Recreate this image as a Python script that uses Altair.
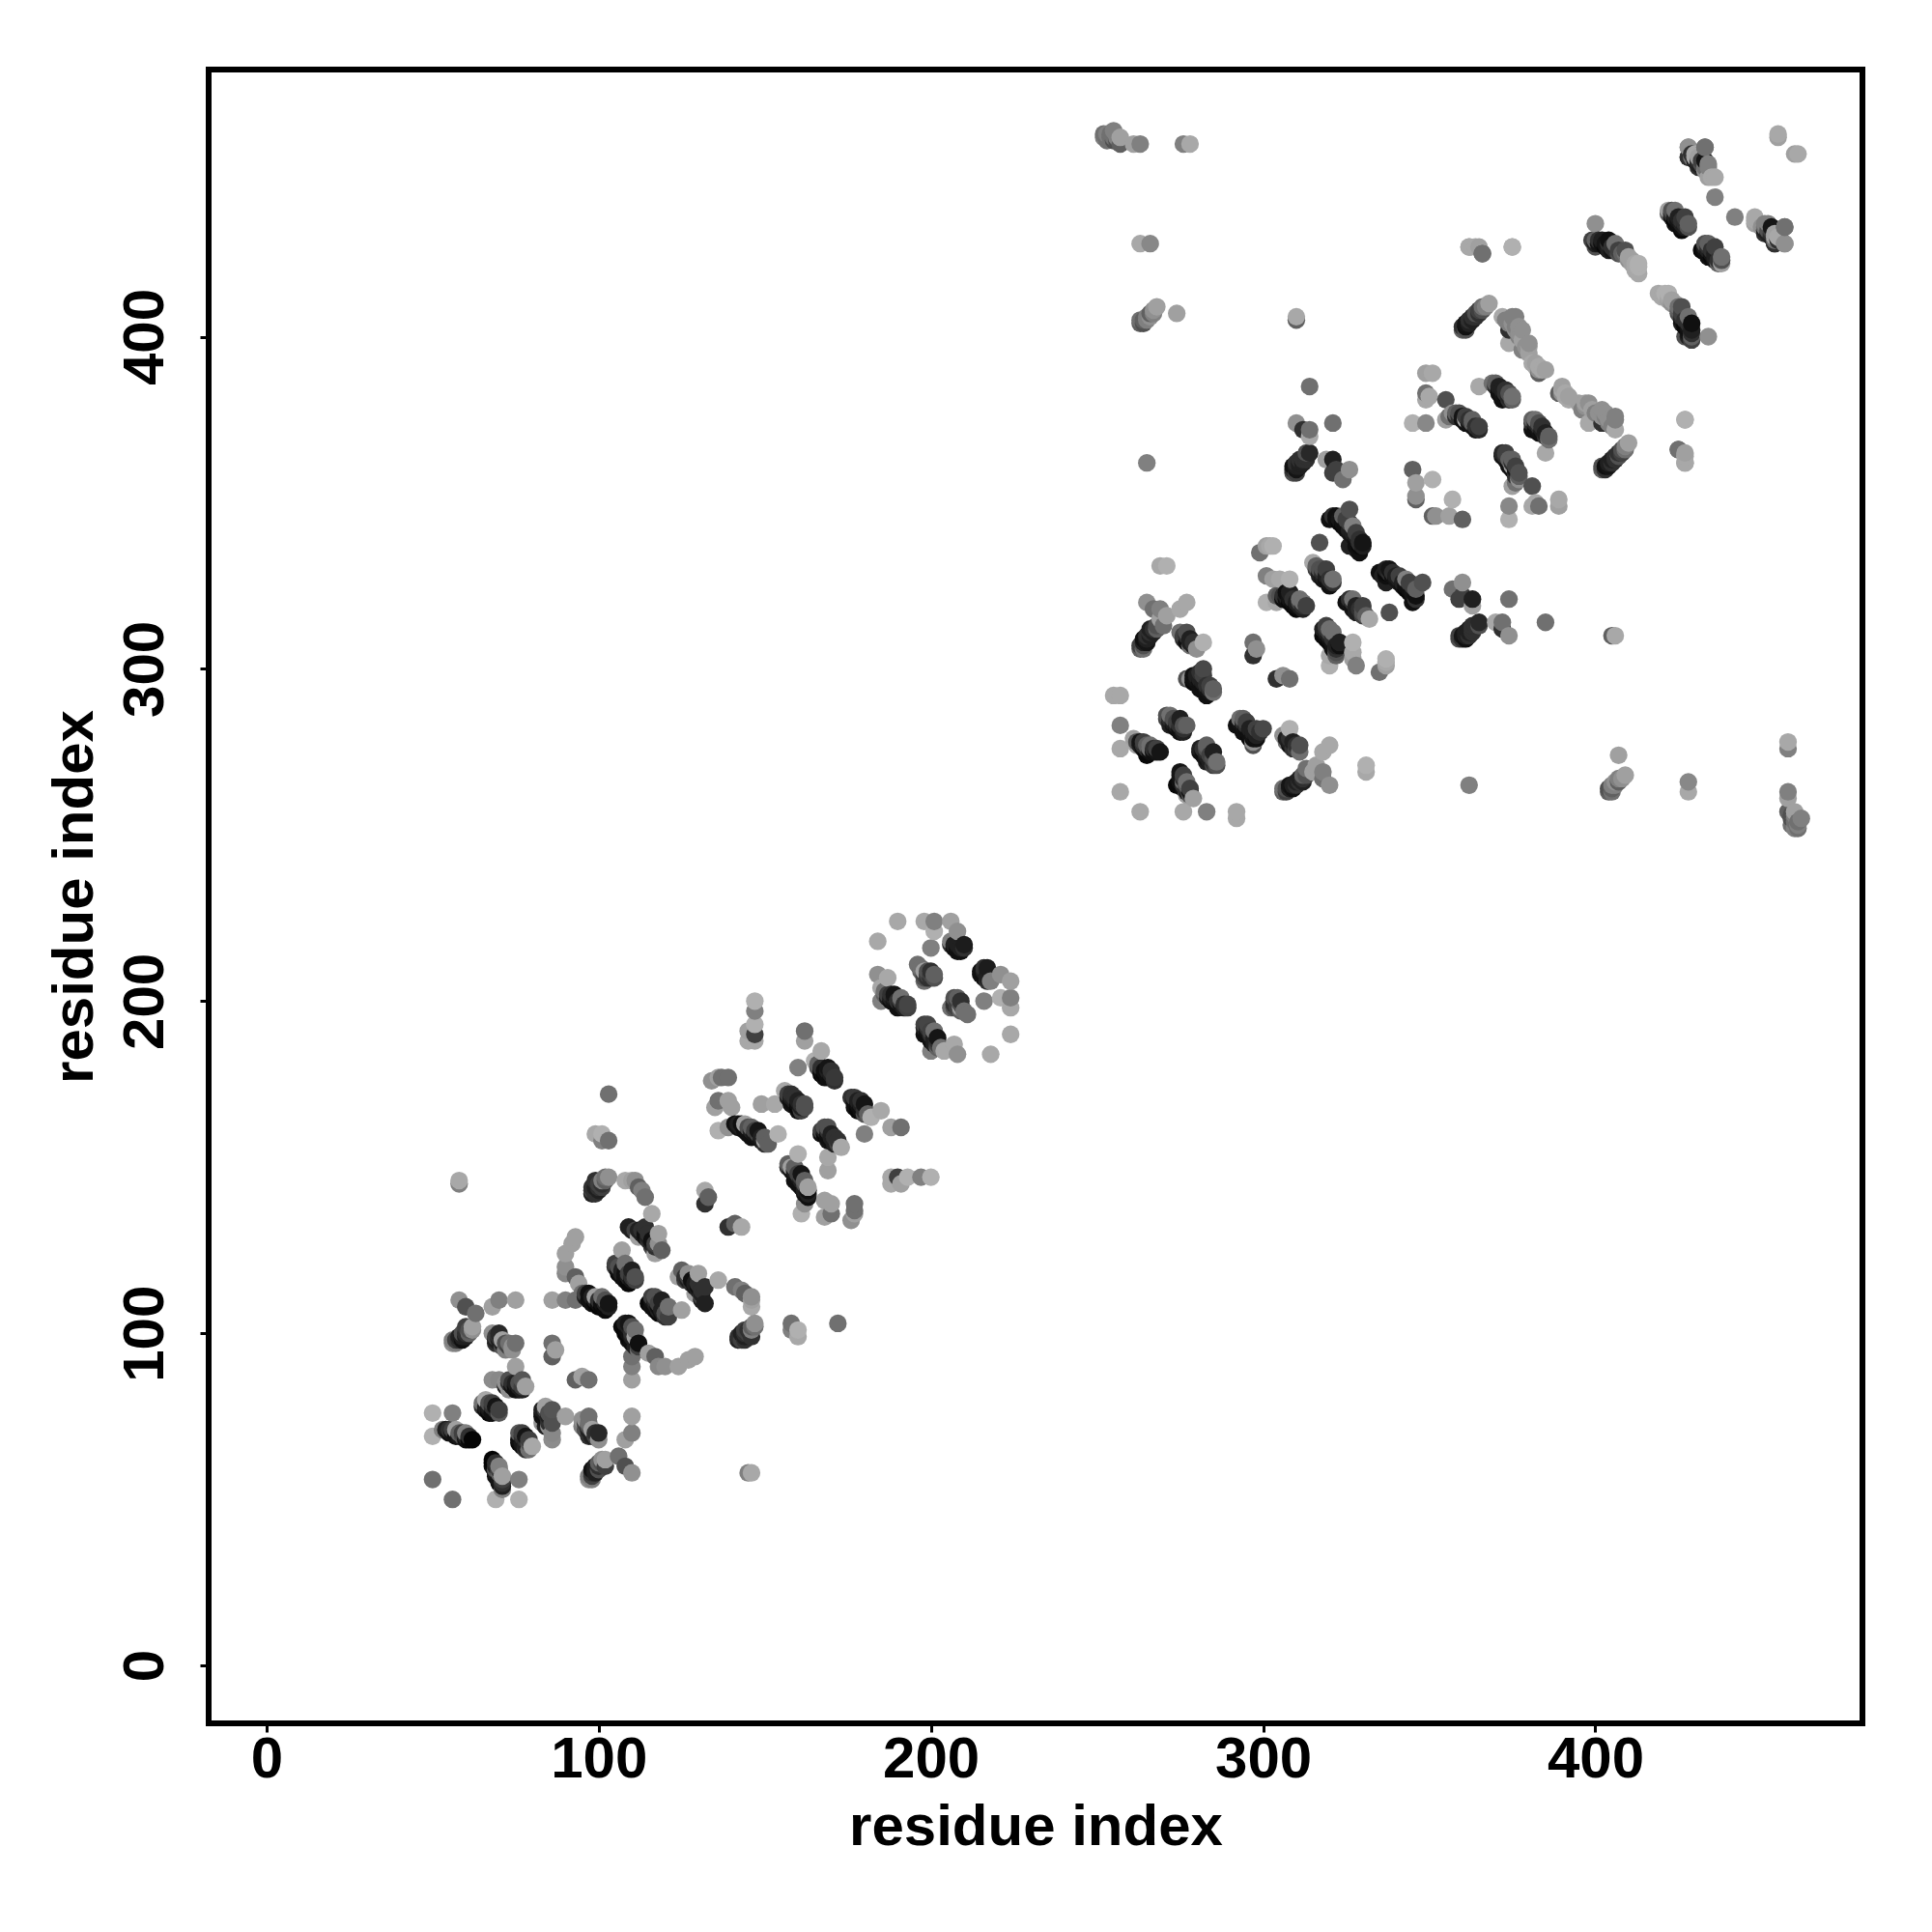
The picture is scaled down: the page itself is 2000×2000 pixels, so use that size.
import altair as alt
import pandas as pd

# contacts: (residue i, residue j, gray level), i < j
block_a = [(50,56,0x70),(56,76,0x80),(50,76,0xb0),(50,69,0xb0),(53,71,0x80),(55,71,0x30),(56,70,0x15),(57,71,0xa0),
           (58,70,0x60),(59,69,0x50),(60,69,0x25),(61,68,0x08),(62,68,0x05)]
block_b = [(66,80,0xa8),(67,79,0x50),(69,78,0x15),(65,78,0x30),(66,77,0x10),(67,76,0x08),(70,76,0x58)]
block_f = [(68,86,0x8c),(70,86,0x88),(75,90,0xa0),(73,86,0x50),(74,84,0x15),(75,85,0x20),(77,86,0x55),
           (76,83,0x10),(78,84,0xa0),(73,83,0x90)]
block_g = [(57,97,0x80),(57,98,0x40),(58,99,0x20),(59,100,0x50),(60,102,0x40),(62,102,0xa0),(63,106,0x70),
           (58,110,0x90),(60,108,0x50),(68,108,0xa0),(70,110,0x80),(75,110,0xa0)]
block_h = [(68,100,0x90),(70,100,0x28),(69,97,0x30),(71,98,0xa0),(73,97,0x70),(72,95,0x80),(75,97,0x70),
           (86,97,0x70),(87,95,0xa0),(86,93,0x60)]
block_i = [(86,110,0xa0),(90,110,0x80),(93,110,0x70),(93,129,0xa0),(92,127,0xa0),(90,124,0xa0),(90,118,0x88),
           (93,117,0x60),(90,120,0x90),(94,115,0xa0),(97,112,0x10),(95,112,0x70),(99,111,0xa0),(98,109,0x10),
           (101,111,0x70),(100,108,0x05),(103,109,0x15),(102,107,0x0a)]
block_j = [(107,125,0xa0),(106,120,0x50),(108,121,0x70),(107,117,0x10),(110,119,0x20),(111,117,0x50),(109,115,0x08)]
block_k = [(109,132,0x20),(116,136,0xa8),(114,132,0x30),(112,129,0xa0),(114,130,0x10),(118,130,0xa0),
           (119,125,0x60),(117,124,0xa0),(116,127,0x20),(112,144,0x60)]
block_l = [(58,146,0xa8),(58,145,0x80),(103,172,0x70),(99,160,0xa8),(101,160,0xb0),(103,158,0x70),(101,158,0x80),
           (98,143,0x40),(99,146,0x30),(101,146,0x80),(103,147,0x90),(98,142,0x20),(100,144,0x30),
           (108,146,0xa8),(111,146,0x90),(113,143,0x80),(114,141,0x70),(110,146,0xa0)]
block_m = [(132,143,0xa8),(133,141,0x60),(132,139,0x30),(136,177,0xa0),(134,176,0x90),(137,177,0x70),(139,177,0x70),
           (136,170,0x70),(139,170,0xa0),(135,168,0xa0),(140,168,0xa0),(136,161,0xb0),(139,162,0x90),(141,163,0x10),
           (143,163,0x10),(144,163,0xa0),(146,162,0x60),(148,161,0x15),(149,159,0x20),(150,158,0xa0),(151,157,0x60),
           (154,160,0xb0),(146,159,0x10)]
block_n = [(149,169,0xa0),(153,169,0xa8),(147,200,0xb0),(147,197,0x80),(145,191,0xa0),(147,193,0xb0),(145,188,0xa8),
           (147,188,0xa8),(147,190,0x40),(162,191,0x70),(162,188,0xa0),(167,185,0xa8),(165,182,0xb0),(166,180,0x50),
           (169,180,0x15),(168,177,0x10),(171,177,0x38),(160,180,0x80),(156,173,0xa8),(158,172,0x30),(160,170,0x20),
           (158,169,0x15),(162,168,0x50),(160,167,0x10)]
block_o = [(184,218,0xa8),(190,224,0xa8),(184,208,0x90),(187,207,0xa8),(185,204,0xa8),(187,202,0x40),(189,202,0x15),
           (191,201,0x70),(193,199,0x45),(185,200,0x80),(190,198,0x10),(200,216,0x80),(201,221,0xb0),(201,224,0x80),
           (198,224,0xa8),(206,224,0xa0),(208,221,0x90),(207,217,0x20),(210,217,0x1c),(208,215,0x10),(196,211,0x70),
           (198,209,0xa0),(200,209,0x30),(201,207,0x50),(198,206,0x70)]
block_p = [(269,331,0xa8),(271,331,0xb0),(265,320,0x90),(267,318,0x70),(269,318,0x80),(277,320,0xa8),(275,318,0xa8),
           (271,316,0xa0),(269,315,0xa0),(264,307,0x50),(264,309,0x10),(265,310,0x30),(266,312,0x20),(268,313,0x50),
           (270,313,0x70),(275,311,0x70),(277,311,0x50),(277,308,0x10),(278,307,0x70),(280,306,0x90),(282,308,0xb0)]
block_q = [(282,300,0x48),(277,297,0x50),(278,297,0x90),(280,296,0x10),(281,294,0x10),(284,295,0x40),(285,293,0x70),
           (283,292,0x10),(255,292,0xa8),(257,292,0xa8),(257,283,0x80),(257,276,0xa8),(257,263,0xa8),(261,279,0xa0),
           (263,278,0x15),(262,277,0xa0),(265,277,0x60),(266,276,0x70),(265,274,0x08),(269,275,0x15),(272,286,0x70),
           (271,286,0x50),(274,284,0x40),(275,285,0x20),(273,283,0x15),(277,283,0x60),(275,281,0x10)]
block_r = [(301,337,0xa0),(299,335,0x70),(303,337,0xb0),(301,328,0x80),(303,327,0xa0),(305,327,0xa8),(308,327,0xb0),
           (301,320,0xb0),(304,320,0xa8),(304,322,0x60),(307,323,0x10),(306,321,0x10),(308,323,0x20),(311,321,0x70),
           (313,319,0x40),(310,318,0x08),(317,338,0x50),(315,332,0xa8),(317,330,0x50),(319,330,0x40),(321,327,0x70),
           (318,327,0x15),(320,325,0x10),(320,345,0x10),(326,348,0x50),(324,346,0x60),(325,343,0x10),(327,343,0x80),
           (328,340,0x20),(330,338,0x15),(329,335,0x10),(326,337,0x20),(297,308,0x70),(298,306,0x90),(297,304,0x30),
           (302,337,0xa8)]
block_s = [(253,461,0x80),(254,460,0x70),(253,459,0x70),(255,462,0x80),(257,460,0xa0),(257,458,0x60),(261,458,0xa0),
           (263,458,0x80),(276,458,0x80),(278,458,0xa8),(263,428,0xa8),(266,428,0x88),(263,404,0x60),(265,406,0x80),
           (266,407,0x60),(268,409,0xa0),(274,407,0xa0),(310,406,0xa8),(310,405,0x60),(314,385,0x70),(310,374,0x90),
           (312,372,0x30),(314,372,0x70),(314,370,0xa8),(321,374,0x70),(265,362,0x80)]
block_t = [(309,359,0x50),(309,361,0x10),(311,363,0x30),(314,365,0x28),(319,363,0xa0),(321,363,0x20),(322,360,0x40),
           (321,359,0x40),(326,360,0x90),(324,357,0x70),(349,389,0xa0),(351,389,0xa8),(349,383,0x70),(350,382,0xa8),
           (349,381,0xa8),(345,374,0xb0),(349,374,0x88),(355,381,0x50),(355,375,0xa0),(357,377,0x90),(358,376,0x30),
           (360,376,0x15),(361,375,0xa0),(363,374,0x60),(365,372,0x28),(365,385,0xa8),(370,386,0x60),(371,384,0x10),
           (373,383,0x30),(375,381,0x60),(372,381,0x10)]
block_u = [(361,402,0x50),(361,404,0x15),(363,406,0x30),(365,408,0x40),(368,410,0xa0),(372,406,0xa8),(375,406,0x80),
           (374,402,0x30),(376,403,0x80),(374,398,0xa8),(380,398,0x90),(378,396,0x80),(381,392,0xa8),(384,390,0xa8),
           (383,389,0x60),(377,401,0x90),(382,392,0xa0),(427,375,0xa8),(425,366,0x70),(427,365,0xa0),(427,362,0xa0),
           (346,352,0x90),(346,356,0xa0),(345,360,0x60),(351,357,0xb0),(346,351,0x60)]
block_v = [(455,461,0xa8),(455,460,0xa0),(428,457,0x90),(428,454,0x30),(430,455,0xa8),(433,457,0x70),(431,454,0xa0),
           (432,451,0x20),(434,452,0x80),(434,448,0xa0),(436,448,0xa8),(436,442,0x80),(400,434,0x90),(400,429,0x60),
           (400,427,0x50),(402,429,0x20),(404,429,0x10),(406,428,0x70),(404,426,0x20),(409,426,0x50),(410,424,0xa0),
           (413,422,0xb0),(413,419,0xa8),(411,423,0xa0),(364,427,0xa8),(362,427,0xa8),(366,425,0x70),(375,427,0xb0)]
block_w = [(422,438,0xa0),(424,438,0x70),(425,436,0x20),(427,436,0x40),(428,434,0x60),(424,434,0x10),(426,432,0x08),
           (435,448,0xa8),(434,451,0x80),(433,453,0x15),(433,457,0x70),(428,454,0x30),(428,457,0x90),(430,454,0xa8),
           (431,451,0x30)]

# further contacts that fill out the dense bands
band_1 = [(54,71,0x20),(55,70,0x10),(56,71,0x40),(57,69,0x10),(58,69,0x18),(59,70,0x40),(60,68,0x10),(61,69,0x30),(60,70,0x80)]
band_2 = [(65,79,0x70),(66,78,0x20),(67,77,0x18),(68,76,0x10),(68,78,0x30),(69,77,0x30),(68,79,0x40),(70,77,0x40),(67,78,0x20)]
band_3 = [(72,85,0x90),(73,85,0x30),(74,85,0x30),(75,84,0x10),(75,83,0x10),(76,84,0x20),(77,84,0x40),(76,85,0x50),(77,83,0x20),(72,84,0x20)]
band_4 = [(56,97,0x90),(58,98,0x30),(59,99,0x20),(60,100,0x30),(61,101,0x50),(59,98,0x10),(60,99,0x20),(61,100,0x60),(62,101,0x90),(56,98,0x80)]
band_5 = [(69,99,0x40),(69,98,0x20),(70,98,0x20),(71,97,0x20),(71,96,0x50),(72,97,0x50),(73,96,0x40),(70,99,0x30),(74,96,0x90),(74,95,0x90)]
band_6 = [(96,112,0x40),(96,111,0x20),(97,110,0x10),(98,111,0x20),(99,109,0x08),(99,110,0x20),(100,110,0x30),(101,109,0x10),
          (101,108,0x08),(102,109,0x20),(100,109,0x10),(103,108,0x20),(102,110,0x50)]
band_7 = [(105,121,0x40),(105,120,0x30),(106,119,0x10),(106,118,0x08),(107,119,0x20),(107,118,0x20),(108,118,0x10),(108,117,0x10),
          (108,116,0x10),(109,117,0x20),(109,118,0x40),(110,117,0x30),(110,116,0x15),(111,116,0x40)]
band_8 = [(110,131,0x20),(111,131,0x40),(112,131,0x20),(113,131,0x30),(113,130,0x20),(114,129,0x15),(115,129,0x20),(115,128,0x30),
          (116,128,0x10),(116,126,0x40),(117,127,0x40),(117,126,0x30),(118,127,0x90),(115,130,0x30)]
band_9 = [(99,144,0x20),(100,145,0x40),(101,145,0x30),(102,146,0x60),(99,142,0x30),(100,143,0x20),(101,144,0x40),(98,144,0x30),(102,147,0x70)]
band_10 = [(142,163,0x20),(142,162,0x15),(143,162,0x20),(144,161,0x10),(145,162,0x50),(145,160,0x10),(146,161,0x20),(147,160,0x15),
           (147,161,0x40),(148,160,0x40),(148,159,0x15),(149,158,0x15),(150,159,0x60),(150,157,0x30)]
band_11 = [(157,172,0x40),(157,171,0x20),(158,171,0x20),(158,170,0x10),(159,171,0x30),(159,170,0x20),(159,169,0x10),(160,169,0x10),
           (160,168,0x08),(161,169,0x30),(161,168,0x20),(162,169,0x50),(161,167,0x40)]
band_12 = [(166,181,0x60),(167,180,0x30),(167,179,0x10),(167,178,0x08),(168,179,0x10),(168,178,0x08),(169,178,0x10),(169,179,0x20),
           (170,178,0x20),(170,177,0x10),(170,179,0x30),(169,177,0x10),(171,176,0x30)]
band_13 = [(186,203,0x70),(186,202,0x60),(187,201,0x20),(188,202,0x30),(188,201,0x20),(188,200,0x10),(189,201,0x20),(189,200,0x15),
           (190,200,0x30),(190,199,0x10),(191,200,0x40),(191,199,0x15),(192,199,0x30),(192,198,0x20),(193,198,0x40)]
band_14 = [(197,210,0x70),(197,209,0x60),(198,208,0x40),(199,209,0x50),(199,208,0x40),(199,207,0x30),(200,208,0x40),(200,207,0x30),
           (201,208,0x60),(198,207,0x50)]
band_15 = [(206,218,0x80),(206,217,0x30),(207,216,0x10),(208,217,0x20),(208,216,0x10),(209,216,0x20),(209,215,0x10),(210,216,0x30)]
band_16 = [(263,307,0x40),(263,306,0x60),(264,308,0x20),(265,308,0x15),(265,309,0x20),(266,310,0x20),(266,311,0x30),(267,312,0x30),
           (267,311,0x20),(268,312,0x60),(264,306,0x70)]
band_17 = [(276,310,0x40),(276,309,0x30),(277,310,0x30),(278,309,0x20),(278,308,0x20),(279,308,0x30),(279,307,0x20)]
band_18 = [(279,298,0x10),(279,297,0x10),(279,296,0x08),(280,298,0x20),(280,297,0x15),(281,297,0x20),(281,296,0x10),(282,296,0x20),
           (282,295,0x10),(283,295,0x30),(283,294,0x15),(284,294,0x30),(284,293,0x15),(285,294,0x60),(282,298,0x40),(281,299,0x30)]
band_19 = [(262,278,0x50),(263,277,0x20),(264,277,0x30),(264,276,0x10),(265,276,0x30),(266,275,0x10),(266,277,0x70),(267,276,0x30),
           (267,275,0x10),(268,275,0x15),(268,276,0x40),(264,278,0x40)]
band_20 = [(271,285,0x40),(272,285,0x30),(272,284,0x20),(273,285,0x50),(273,284,0x20),(274,283,0x20),(274,282,0x10),(275,283,0x30),
           (275,282,0x10),(276,283,0x50),(276,282,0x30),(276,281,0x20),(272,283,0x20)]
band_21 = [(305,322,0x50),(306,322,0x30),(307,322,0x20),(307,321,0x10),(308,321,0x15),(308,320,0x08),(309,321,0x30),(309,320,0x10),
           (309,319,0x08),(310,320,0x20),(310,319,0x10),(311,320,0x40),(311,319,0x20),(312,320,0x70),(312,319,0x30),(312,318,0x20)]
band_22 = [(316,331,0x60),(316,330,0x40),(317,329,0x20),(317,328,0x20),(318,329,0x30),(318,328,0x20),(319,328,0x20),(319,327,0x10),
           (320,327,0x30),(320,326,0x15),(321,326,0x30),(318,330,0x50)]
band_23 = [(321,346,0x30),(322,346,0x10),(322,345,0x10),(323,345,0x15),(323,344,0x08),(324,344,0x10),(324,343,0x08),(325,345,0x40),
           (325,342,0x10),(326,344,0x40),(326,342,0x20),(326,341,0x15),(327,341,0x20),(327,340,0x15),(328,341,0x40),(328,339,0x10),
           (329,339,0x30),(329,337,0x0a),(330,337,0x20),(328,337,0x10),(329,338,0x30),(328,336,0x20)]
band_24 = [(309,360,0x30),(310,361,0x20),(310,360,0x15),(310,362,0x30),(311,362,0x20),(311,361,0x20),(312,363,0x30),(312,362,0x20),
           (313,364,0x30),(313,363,0x30),(313,365,0x50),(310,359,0x40)]
band_25 = [(356,376,0x70),(358,377,0x60),(359,376,0x30),(359,377,0x50),(360,375,0x10),(361,376,0x40),(361,374,0x10),(362,375,0x30),
           (362,374,0x15),(363,373,0x15),(364,373,0x30),(364,372,0x15),(365,373,0x40),(363,375,0x60)]
band_26 = [(369,386,0x70),(370,385,0x30),(371,385,0x20),(371,383,0x10),(372,384,0x20),(372,383,0x15),(372,382,0x10),(373,382,0x10),
           (373,384,0x30),(374,383,0x50),(374,382,0x25),(374,381,0x30),(375,382,0x70)]
band_27 = [(360,402,0x60),(360,403,0x30),(361,403,0x10),(362,404,0x20),(362,405,0x30),(363,405,0x20),(364,406,0x30),(364,407,0x50),
           (365,407,0x30),(366,408,0x50),(367,409,0x80),(366,409,0x70)]
band_28 = [(399,429,0x40),(400,428,0x20),(401,429,0x30),(401,428,0x15),(402,428,0x10),(403,428,0x15),(403,427,0x08),(404,428,0x30),
           (405,427,0x30),(405,426,0x15),(406,426,0x30),(407,426,0x40),(407,425,0x50),(408,425,0x60),(409,425,0x70),(410,423,0x90),
           (411,422,0xa0),(412,422,0xa8),(412,421,0xa8),(412,420,0xa8),(413,421,0xb0)]
band_29 = [(422,437,0x60),(423,438,0x50),(423,437,0x30),(423,436,0x15),(424,436,0x20),(424,435,0x08),(425,435,0x15),(425,434,0x10),
           (426,435,0x30),(426,434,0x20),(426,433,0x10),(427,434,0x30),(427,433,0x20),(428,433,0x50)]
band_30 = [(429,455,0x30),(429,454,0x70),(430,453,0x20),(431,453,0x30),(431,452,0x20),(432,452,0x50),(433,451,0x70),(433,450,0x90),(432,453,0x40)]
band_31 = [(252,460,0x80),(252,461,0x70),(254,461,0x70),(255,460,0x70),(255,459,0x50),(256,459,0x50),(256,460,0x80)]
band_32 = [(263,405,0x70),(264,404,0x50),(264,405,0x60),(265,405,0x80),(266,406,0x90),(267,408,0x90),(267,407,0x80)]
band_33 = [(373,405,0x80),(375,404,0x90),(376,402,0x90),(377,400,0x80),(378,399,0xa0),(379,397,0x90),(380,395,0xa0),(382,391,0xa8),
           (383,391,0xa8),(385,390,0xa0),(383,390,0x90),(380,397,0xa0),(377,403,0x90),(378,402,0x90),(376,406,0x80),(374,404,0x80)]

blocks = [block_a, block_b, block_f, block_g, block_h, block_i, block_j, block_k, block_l, block_m, block_n,
          block_o, block_p, block_q, block_r, block_s, block_t, block_u, block_v, block_w,
          band_1, band_2, band_3, band_4, band_5, band_6, band_7, band_8, band_9, band_10, band_11,
          band_12, band_13, band_14, band_15, band_16, band_17, band_18, band_19, band_20, band_21, band_22,
          band_23, band_24, band_25, band_26, band_27, band_28, band_29, band_30, band_31, band_32, band_33]
tick_values = [0, 100, 200, 300, 400]

rows = []
for block in blocks:
    for i, j, g in block:
        colour = f"#{g:02x}{g:02x}{g:02x}"
        rows.append((i, j, colour))
        rows.append((j, i, colour))
df = pd.DataFrame(rows, columns=["x", "y", "c"]).sort_values(["x", "y"], kind="stable")

FONT = "Liberation Sans"
def axis(title_pad, label_pad, angle=0):
    return alt.Axis(title="residue index", values=tick_values, grid=False, domain=False,
                    tickColor="black", tickSize=9, tickWidth=3,
                    labelFont=FONT, labelFontSize=60, labelFontWeight="bold", labelColor="black",
                    labelPadding=label_pad, labelAngle=angle,
                    titleFont=FONT, titleFontSize=60, titleFontWeight="bold", titleColor="black",
                    titlePadding=title_pad)

dom = [-17.4, 480.4]
chart = alt.Chart(df).mark_circle(size=335, opacity=1, strokeWidth=0).encode(
    x=alt.X("x:Q", scale=alt.Scale(domain=dom, nice=False, zero=False), axis=axis(11, -1)),
    y=alt.Y("y:Q", scale=alt.Scale(domain=dom, nice=False, zero=False), axis=axis(12, 26, 270)),
    color=alt.Color("c:N", scale=None),
).properties(
    width=1712, height=1712,
    autosize=alt.AutoSizeParams(type="none"),
    padding={"left": 208, "top": 64, "right": 64, "bottom": 208},
).configure_view(stroke="black", strokeWidth=6)

chart.save("out.html", embed_options={"renderer": "svg", "actions": False})
